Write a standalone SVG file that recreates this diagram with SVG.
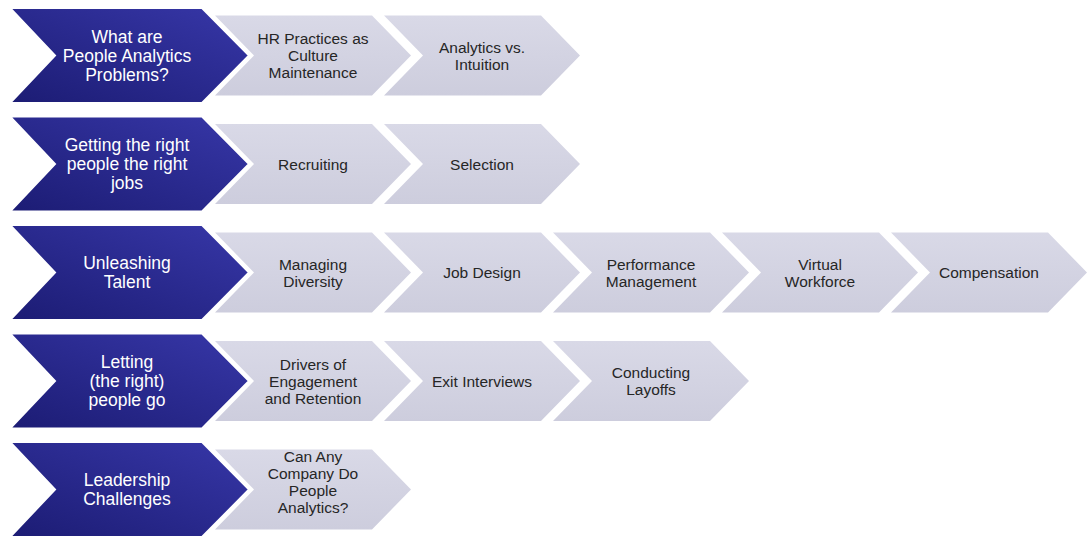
<svg xmlns="http://www.w3.org/2000/svg" xmlns:xlink="http://www.w3.org/1999/xlink" width="1088" height="539" viewBox="0 0 1088 539">
<style>
.lt{fill:url(#lg);}
.dk{fill:url(#dg);stroke:#ffffff;stroke-width:2;stroke-linejoin:miter;}
.tl{font-family:"Liberation Sans",Arial,sans-serif;font-size:15.5px;fill:#262626;text-anchor:middle;}
.td{font-family:"Liberation Sans",Arial,sans-serif;font-size:17.5px;fill:#ffffff;text-anchor:middle;}
</style>
<defs>
<linearGradient id="lg" x1="0" y1="0" x2="0" y2="1">
<stop offset="0" stop-color="#D9D9E7"/>
<stop offset="1" stop-color="#CDCDDD"/>
</linearGradient>
<linearGradient id="dg" x1="0" y1="1" x2="1" y2="0">
<stop offset="0" stop-color="#1C1C74"/>
<stop offset="1" stop-color="#3737A8"/>
</linearGradient>
<polygon id="lt" points="0,0 157,0 196,40 157,80 0,80 39,40"/>
<polygon id="dk" points="0,0 192,0 239,47.5 192,95 0,95 45,47.5"/>
</defs>
<rect width="1088" height="539" fill="#ffffff"/>
<g id="connectors"/>

<!-- Row 1 -->
<g id="n-hr-practices"><use xlink:href="#lt" href="#lt" class="lt" x="215" y="15.5"/>
<text class="tl" x="313" y="44">HR Practices as</text><text class="tl" x="313" y="61">Culture</text><text class="tl" x="313" y="78">Maintenance</text></g>
<g id="n-analytics-intuition"><use xlink:href="#lt" href="#lt" class="lt" x="384" y="15.5"/>
<text class="tl" x="482" y="52.5">Analytics vs.</text><text class="tl" x="482" y="69.5">Intuition</text></g>
<g id="n-what-are"><use xlink:href="#dk" href="#dk" class="dk" x="10" y="8"/>
<text class="td" x="127" y="42.5">What are</text><text class="td" x="127" y="61.5">People Analytics</text><text class="td" x="127" y="80.5">Problems?</text></g>

<!-- Row 2 -->
<g id="n-recruiting"><use xlink:href="#lt" href="#lt" class="lt" x="215" y="124"/>
<text class="tl" x="313" y="169.5">Recruiting</text></g>
<g id="n-selection"><use xlink:href="#lt" href="#lt" class="lt" x="384" y="124"/>
<text class="tl" x="482" y="169.5">Selection</text></g>
<g id="n-getting"><use xlink:href="#dk" href="#dk" class="dk" x="10" y="116.5"/>
<text class="td" x="127" y="151">Getting the right</text><text class="td" x="127" y="170">people the right</text><text class="td" x="127" y="189">jobs</text></g>

<!-- Row 3 -->
<g id="n-diversity"><use xlink:href="#lt" href="#lt" class="lt" x="215" y="232.5"/>
<text class="tl" x="313" y="269.5">Managing</text><text class="tl" x="313" y="286.5">Diversity</text></g>
<g id="n-job-design"><use xlink:href="#lt" href="#lt" class="lt" x="384" y="232.5"/>
<text class="tl" x="482" y="278">Job Design</text></g>
<g id="n-performance"><use xlink:href="#lt" href="#lt" class="lt" x="553" y="232.5"/>
<text class="tl" x="651" y="269.5">Performance</text><text class="tl" x="651" y="286.5">Management</text></g>
<g id="n-virtual"><use xlink:href="#lt" href="#lt" class="lt" x="722" y="232.5"/>
<text class="tl" x="820" y="269.5">Virtual</text><text class="tl" x="820" y="286.5">Workforce</text></g>
<g id="n-compensation"><use xlink:href="#lt" href="#lt" class="lt" x="891" y="232.5"/>
<text class="tl" x="989" y="278">Compensation</text></g>
<g id="n-unleashing"><use xlink:href="#dk" href="#dk" class="dk" x="10" y="225"/>
<text class="td" x="127" y="269">Unleashing</text><text class="td" x="127" y="288">Talent</text></g>

<!-- Row 4 -->
<g id="n-drivers"><use xlink:href="#lt" href="#lt" class="lt" x="215" y="341"/>
<text class="tl" x="313" y="369.5">Drivers of</text><text class="tl" x="313" y="386.5">Engagement</text><text class="tl" x="313" y="403.5">and Retention</text></g>
<g id="n-exit"><use xlink:href="#lt" href="#lt" class="lt" x="384" y="341"/>
<text class="tl" x="482" y="386.5">Exit Interviews</text></g>
<g id="n-layoffs"><use xlink:href="#lt" href="#lt" class="lt" x="553" y="341"/>
<text class="tl" x="651" y="378">Conducting</text><text class="tl" x="651" y="395">Layoffs</text></g>
<g id="n-letting"><use xlink:href="#dk" href="#dk" class="dk" x="10" y="333.5"/>
<text class="td" x="127" y="368">Letting</text><text class="td" x="127" y="387">(the right)</text><text class="td" x="127" y="406">people go</text></g>

<!-- Row 5 -->
<g id="n-can-any"><use xlink:href="#lt" href="#lt" class="lt" x="215" y="449.5"/>
<text class="tl" x="313" y="461.5">Can Any</text><text class="tl" x="313" y="478.5">Company Do</text><text class="tl" x="313" y="495.5">People</text><text class="tl" x="313" y="512.5">Analytics?</text></g>
<g id="n-leadership"><use xlink:href="#dk" href="#dk" class="dk" x="10" y="442"/>
<text class="td" x="127" y="486">Leadership</text><text class="td" x="127" y="505">Challenges</text></g>
</svg>
